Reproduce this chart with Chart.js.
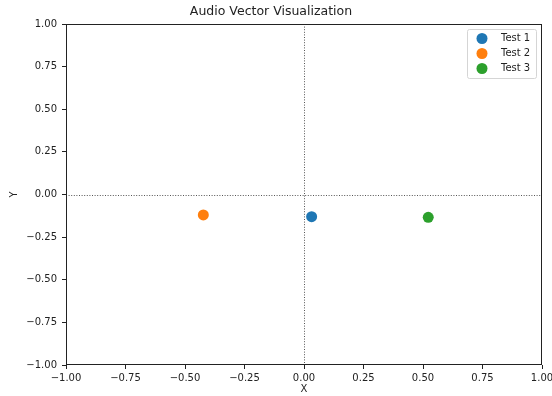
<!DOCTYPE html>
<html lang="en">
<head>
<meta charset="UTF-8">
<title>Audio Vector Visualization</title>
<script src="https://cdn.jsdelivr.net/npm/chart.js"></script>
<style>
  html, body { margin: 0; padding: 0; background: #fff; }
  #wrap { width: 552px; height: 396px; }
</style>
</head>
<body>
<div id="wrap"><canvas id="vecChart"></canvas></div>
<script>
// data
const seriesNames = ['Test 1', 'Test 2', 'Test 3'];
const seriesColors = ['#1f77b4', '#ff7f0e', '#2ca02c'];
const xValues = [0.032, -0.423, 0.522];
const yValues = [-0.13, -0.12, -0.134];
const tickValues = [-1, -0.75, -0.5, -0.25, 0, 0.25, 0.5, 0.75, 1];

const FONT = 'DejaVu Sans';

const fmt = v => (v < 0 ? '\u2212' : '') + Math.abs(v).toFixed(2);

// frame, dotted zero lines and the boxed legend, matplotlib-like
const extras = {
  id: 'extras',
  beforeDatasetsDraw(chart) {
    const { ctx, chartArea: a, scales: { x, y } } = chart;
    ctx.save();
    ctx.strokeStyle = '#555';
    ctx.lineWidth = 1;
    ctx.setLineDash([1, 1.6]);
    const x0 = Math.round(x.getPixelForValue(0)) + 0.5;
    const y0 = Math.round(y.getPixelForValue(0)) + 0.5;
    ctx.beginPath();
    ctx.moveTo(x0, a.top); ctx.lineTo(x0, a.bottom);
    ctx.moveTo(a.left, y0); ctx.lineTo(a.right, y0);
    ctx.stroke();
    ctx.restore();
  },
  afterDraw(chart) {
    const { ctx, chartArea: a } = chart;
    ctx.save();
    ctx.strokeStyle = '#222';
    ctx.lineWidth = 1;
    ctx.strokeRect(Math.round(a.left) + 0.5, Math.round(a.top) + 0.5,
      Math.round(a.right - a.left) - 1, Math.round(a.bottom - a.top) - 1);

    // legend box
    const ds = chart.data.datasets;
    const bw = 69, bh = 49;
    const bx = a.right - 6 - bw, by = a.top + 5;
    ctx.fillStyle = 'rgba(255,255,255,0.8)';
    ctx.strokeStyle = '#d5d5d5';
    ctx.beginPath();
    ctx.roundRect(bx + 0.5, by + 0.5, bw, bh, 2);
    ctx.fill();
    ctx.stroke();
    ctx.font = '10px "' + FONT + '"';
    ctx.textBaseline = 'middle';
    ctx.textAlign = 'left';
    ds.forEach((d, i) => {
      const cy = by + 9.5 + i * 15;
      ctx.fillStyle = d.backgroundColor;
      ctx.beginPath();
      ctx.arc(bx + 15, cy, 5.5, 0, Math.PI * 2);
      ctx.fill();
      ctx.fillStyle = '#222';
      ctx.fillText(d.label, bx + 34, cy);
    });
    ctx.restore();
  }
};

const datasets = seriesNames.map((name, i) => ({
  label: name,
  data: [{ x: xValues[i], y: yValues[i] }],
  backgroundColor: seriesColors[i],
  borderColor: seriesColors[i],
  borderWidth: 0,
  pointRadius: 5.5,
  pointHoverRadius: 5.5
}));

const axis = (title, horizontal) => ({
  type: 'linear',
  min: -1,
  max: 1,
  afterBuildTicks: s => { s.ticks = tickValues.map(v => ({ value: v })); },
  afterFit: s => {
    if (horizontal) {
      s.height = 31;
      s.paddingLeft = 0;
      s.paddingRight = 10;
    } else {
      s.width = 66;
      s.paddingTop = 0;
      s.paddingBottom = 0;
    }
  },
  border: { display: false },
  grid: { drawOnChartArea: false, drawTicks: true, tickLength: 4, color: '#222' },
  ticks: {
    color: '#222',
    padding: horizontal ? 3 : 5,
    font: { family: FONT, size: 10 },
    maxRotation: 0,
    autoSkip: false,
    callback: v => fmt(v)
  },
  title: {
    display: true,
    text: title,
    color: '#222',
    font: { family: FONT, size: 10 },
    padding: horizontal ? { top: 0, bottom: 1 } : { top: 8, bottom: 0 }
  }
});

new Chart(document.getElementById('vecChart'), {
  type: 'scatter',
  data: { datasets },
  options: {
    responsive: true,
    maintainAspectRatio: false,
    animation: false,
    layout: { padding: { left: 0, right: 10, top: 0, bottom: 0 } },
    plugins: {
      legend: { display: false },
      tooltip: { enabled: false },
      title: {
        display: true,
        text: 'Audio Vector Visualization',
        color: '#222',
        font: { family: FONT, size: 12.5, weight: 'normal' },
        padding: { top: 4, bottom: 5 }
      }
    },
    scales: { x: axis('X', true), y: axis('Y', false) }
  },
  plugins: [extras]
});
</script>
</body>
</html>
